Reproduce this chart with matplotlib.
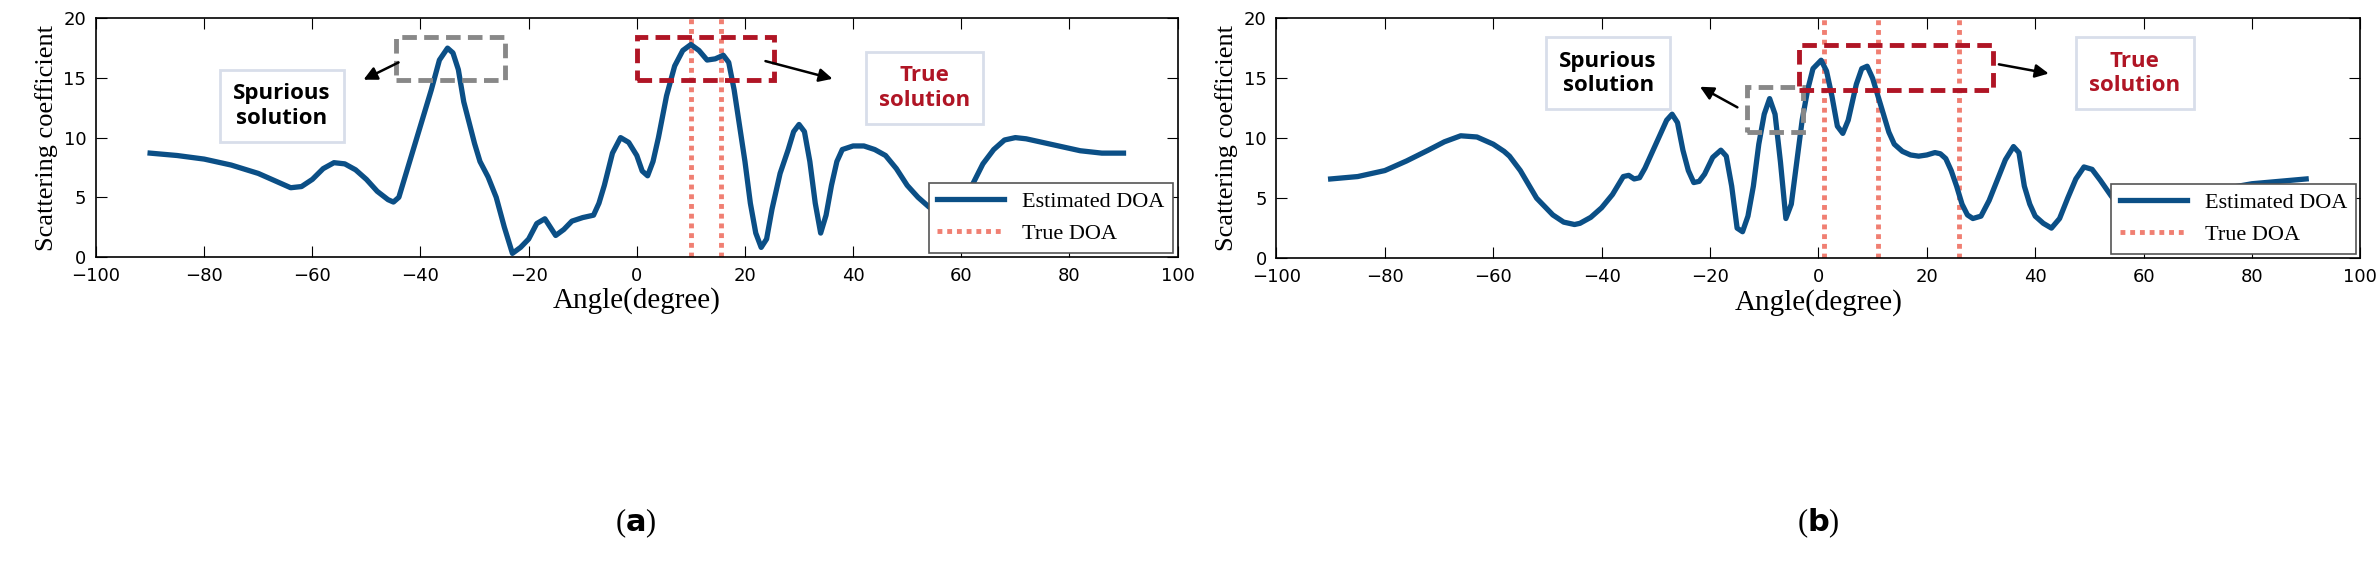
import matplotlib
matplotlib.use("Agg")
import matplotlib.pyplot as plt
from matplotlib.patches import Rectangle

ang_a = [-90,-85,-80,-75,-70,-67,-64,-62,-60,-58,-56,-54,-52,-50,-48,-46,-45,-44,-42,-40,-38,-36.5,-35,-34,-33,-32,-30,-29,-27.5,-26,-24.5,-23,-21.5,-20,-18.5,-17,-16,-15,-13.5,-12,-10,-8,-7,-6,-4.5,-3,-1.5,0,1,2,3,4,5.5,7,8.5,10,11.5,13,14.5,16,17,18,19,20,21,22,23,24,25,26.5,28,29,30,31,32,33,34,35,36,37,38,40,42,44,46,48,50,52,54,56,58,60,62,64,66,68,70,72,75,78,82,86,90]
val_a = [8.7,8.5,8.2,7.7,7.0,6.4,5.8,5.9,6.5,7.4,7.9,7.8,7.3,6.5,5.5,4.8,4.6,5.0,8.0,11.0,14.0,16.5,17.5,17.1,15.7,13.0,9.5,8.0,6.7,5.0,2.5,0.3,0.8,1.5,2.8,3.2,2.5,1.8,2.3,3.0,3.3,3.5,4.5,6.0,8.7,10.0,9.6,8.5,7.2,6.8,8.0,10.0,13.5,16.0,17.3,17.8,17.3,16.5,16.6,16.9,16.3,14.0,11.0,8.0,4.5,2.0,0.8,1.5,4.0,7.0,9.0,10.5,11.1,10.5,8.0,4.5,2.0,3.5,6.0,8.0,9.0,9.3,9.3,9.0,8.5,7.4,6.0,5.0,4.2,3.6,3.5,4.0,6.0,7.8,9.0,9.8,10.0,9.9,9.6,9.3,8.9,8.7,8.7]
true_a = [10, 15.5]

ang_b = [-90,-85,-80,-76,-72,-69,-66,-63,-60,-58,-57,-55,-52,-49,-47,-45,-44,-42,-40,-38,-36,-35,-34,-33,-32,-30,-28,-27,-26,-25,-24,-23,-22,-21,-19.5,-18,-17,-16,-15,-14,-13,-12,-11,-10,-9,-8,-7,-6,-5,-4,-3,-2,-1,0.5,1.5,2.5,3.5,4.5,5.5,7,8,9,10,11,12,13,14,15.5,17,18.5,20,21.5,22.5,23.5,24.5,25.5,26.5,27.5,28.5,30,31.5,33,34.5,36,37,38,39,40,41.5,43,44.5,46,47.5,49,50.5,52,54,56,58,60,62,65,70,75,80,85,90]
val_b = [6.6,6.8,7.3,8.1,9.0,9.7,10.2,10.1,9.5,8.9,8.5,7.3,5.0,3.6,3.0,2.8,2.9,3.4,4.2,5.3,6.8,6.9,6.6,6.7,7.5,9.5,11.5,12.0,11.3,9.0,7.3,6.3,6.4,7.0,8.4,9.0,8.5,6.0,2.5,2.2,3.5,6.0,9.5,12.0,13.3,12.0,8.0,3.3,4.5,8.0,11.5,14.0,15.8,16.5,15.6,13.5,11.0,10.4,11.5,14.5,15.8,16.0,15.0,13.5,12.0,10.5,9.5,8.9,8.6,8.5,8.6,8.8,8.7,8.3,7.3,6.0,4.5,3.6,3.3,3.5,4.8,6.5,8.2,9.3,8.8,6.0,4.5,3.5,2.9,2.5,3.3,5.0,6.6,7.6,7.4,6.5,5.2,4.0,3.8,4.2,4.6,5.0,5.4,5.8,6.2,6.4,6.6]
true_b = [1, 11, 26]

blue = "#0b4f86"; salmon = "#f07f72"; dred = "#b01525"

fig = plt.figure(figsize=(23.77, 5.71), dpi=100)
axa = fig.add_axes([0.0404, 0.55, 0.455, 0.418])
axb = fig.add_axes([0.537, 0.548, 0.456, 0.42])

def panel(ax, ang, val, trues, gray, red, sp_box, sp_arrow, tr_box, tr_arrow):
    ax.plot(ang, val, color=blue, lw=3.8, label="Estimated DOA", zorder=3, solid_joinstyle="round")
    for i, t in enumerate(trues):
        ax.axvline(t, color=salmon, lw=3.5, ls=(0, (1, 1)), label="True DOA" if i == 0 else None, zorder=2)
    ax.set_xlim(-100, 100); ax.set_ylim(0, 20)
    ax.set_xticks(range(-100, 101, 20)); ax.set_yticks(range(0, 21, 5))
    ax.tick_params(direction="in", top=True, right=True, labelsize=13, length=8, pad=7)
    for s in ax.spines.values(): s.set_linewidth(1.2)
    ax.set_xlabel("Angle(degree)", family="Liberation Serif", fontsize=21, labelpad=2)
    ax.set_ylabel("Scattering coefficient", family="Liberation Serif", fontsize=19, labelpad=4)
    ax.add_patch(Rectangle((gray[0], gray[2]), gray[1]-gray[0], gray[3]-gray[2], fill=False,
                           ec="#888888", lw=3.5, ls=(0, (3, 1.5)), zorder=4))
    ax.add_patch(Rectangle((red[0], red[2]), red[1]-red[0], red[3]-red[2], fill=False,
                           ec=dred, lw=3.5, ls=(0, (3, 1.5)), zorder=4))
    bp = dict(boxstyle="square,pad=0.6", fc="white", ec="#d8deea", lw=2)
    ax.text(sp_box[0], sp_box[1], "Spurious\nsolution", ha="center", va="center", fontsize=16,
            fontweight="bold", color="black", family="Open Sans", bbox=bp, zorder=5, linespacing=1.2)
    ax.text(tr_box[0], tr_box[1], "True\nsolution", ha="center", va="center", fontsize=16,
            fontweight="bold", color=dred, family="Open Sans", bbox=bp, zorder=5, linespacing=1.2)
    for a in (sp_arrow, tr_arrow):
        ax.annotate("", xy=a[1], xytext=a[0],
                    arrowprops=dict(arrowstyle="-|>", color="black", lw=1.8, mutation_scale=20), zorder=5)
    leg = ax.legend(loc="lower right", prop={"family": "Liberation Serif", "size": 16},
                    fancybox=False, edgecolor="#555555", framealpha=1, handlelength=3, borderaxespad=0.2)
    leg.get_frame().set_linewidth(1.2)
    leg.set_zorder(6)

panel(axa, ang_a, val_a, true_a, (-44.5, -24.3, 14.8, 18.4), (0, 25.4, 14.8, 18.4),
      (-65.6, 12.65), ((-43.6, 16.4), (-51, 14.75)), (53.2, 14.15), ((23.3, 16.47), (36.7, 14.87)))
panel(axb, ang_b, val_b, true_b, (-13.2, -2.8, 10.5, 14.3), (-3.5, 32.3, 14.0, 17.8),
      (-38.8, 15.4), ((-14.5, 12.46), (-22.3, 14.4)), (58.4, 15.4), ((32.8, 16.2), (43, 15.35)))

fig.text(0.2675, 0.07, r"($\mathbf{a}$)", ha="center", fontsize=22, family="Liberation Serif")
fig.text(0.765, 0.07, r"($\mathbf{b}$)", ha="center", fontsize=22, family="Liberation Serif")
fig.savefig("out.png", dpi=100)
